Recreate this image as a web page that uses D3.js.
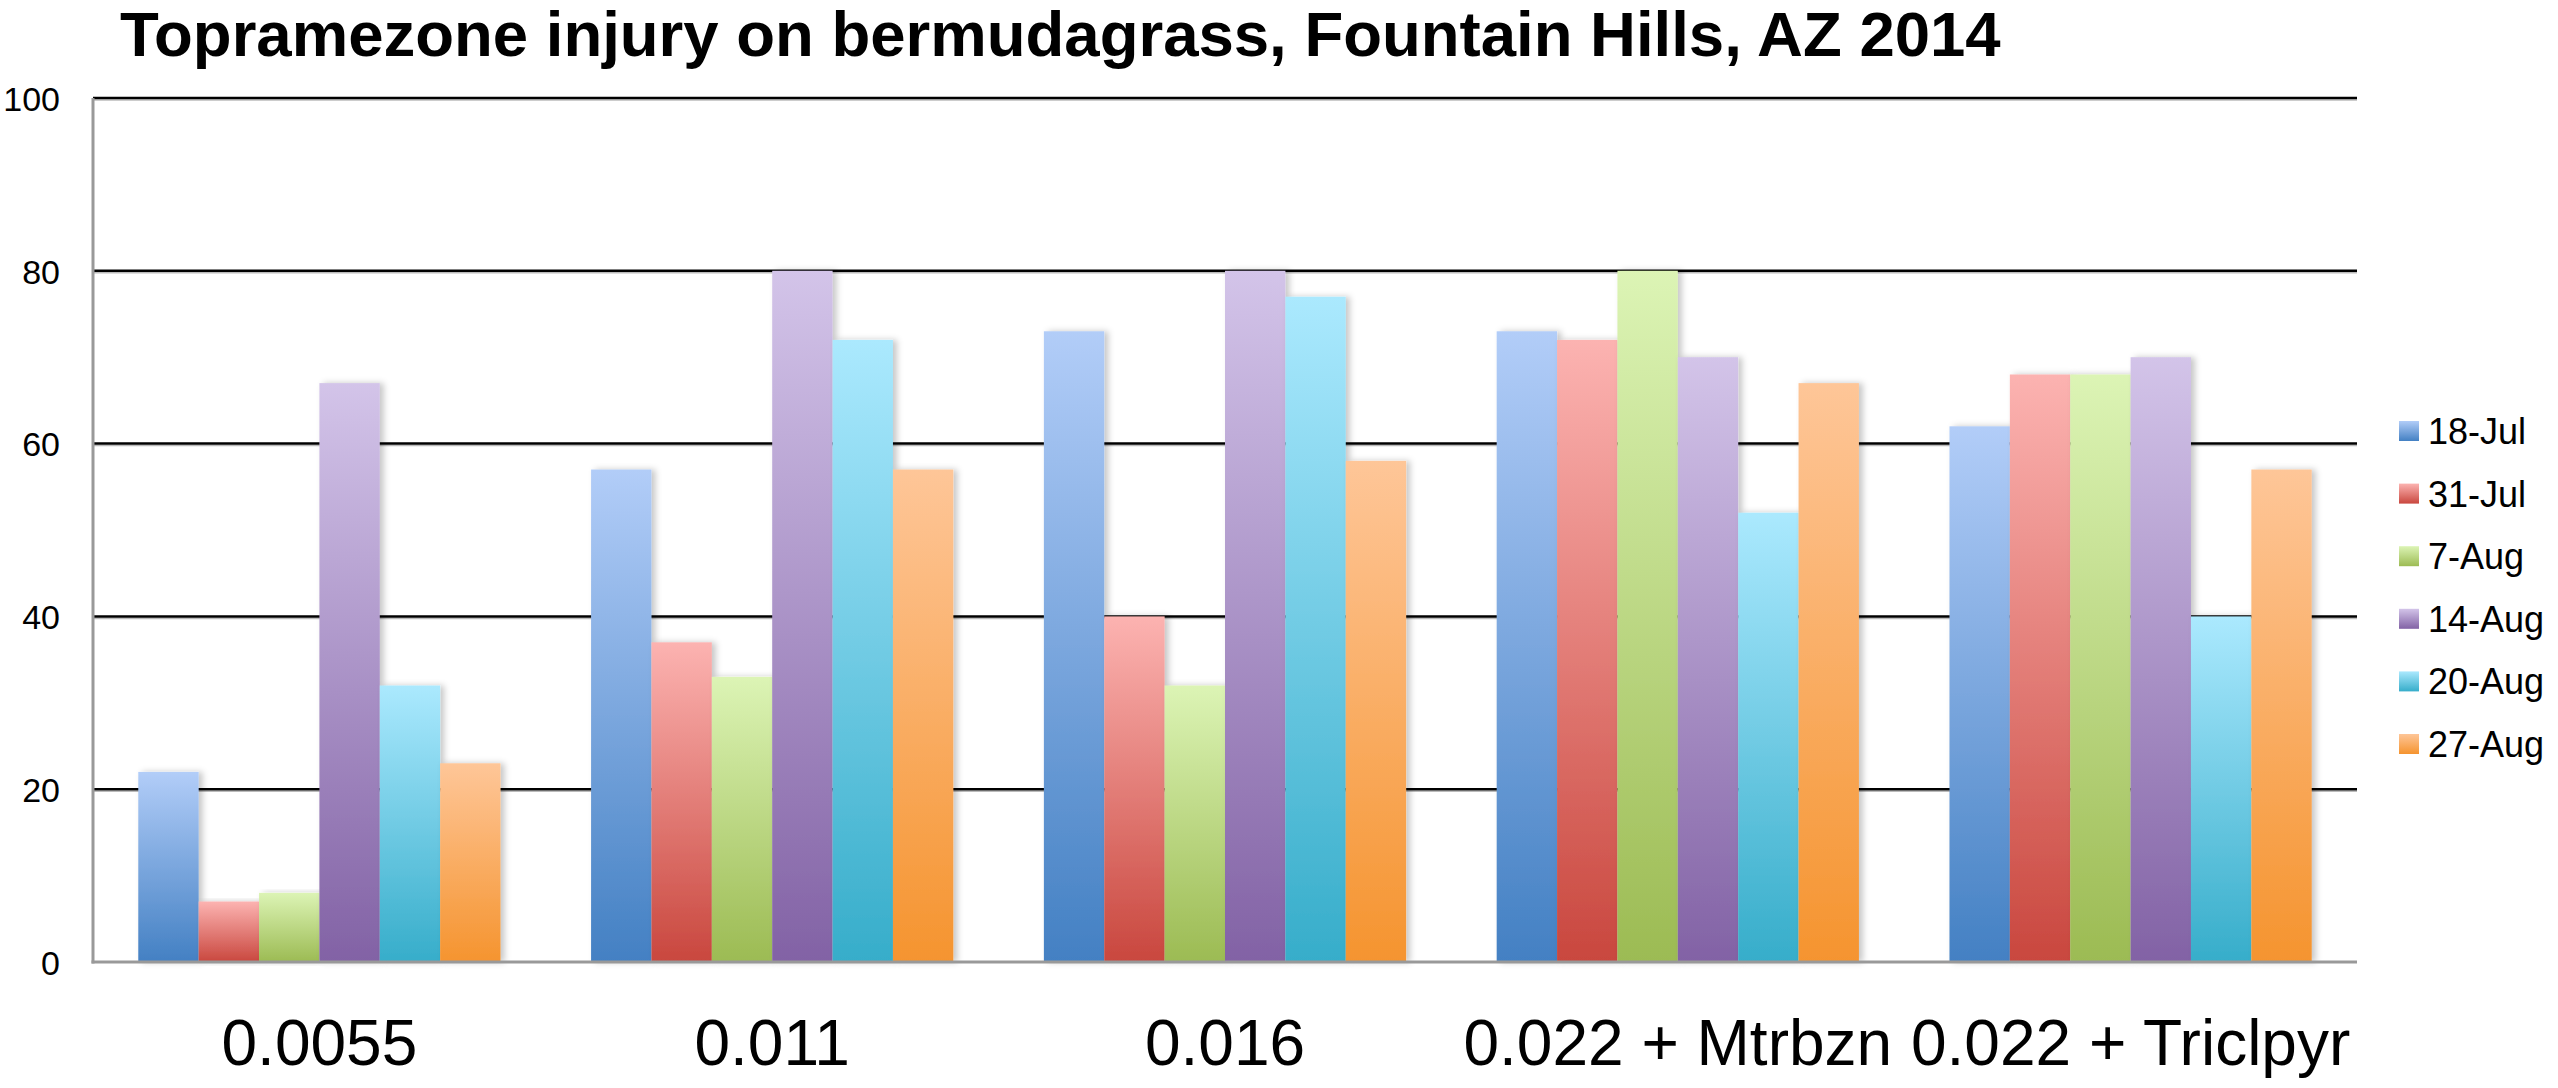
<!DOCTYPE html>
<html>
<head>
<meta charset="utf-8">
<script src="https://cdn.jsdelivr.net/npm/d3@7"></script>
<style>
  html, body { margin: 0; padding: 0; background: #fff; }
  svg { display: block; }
</style>
</head>
<body>
<svg id="chart" width="2558" height="1088"></svg>
<script>
const title = "Topramezone injury on bermudagrass, Fountain Hills, AZ 2014";
const categories = ["0.0055", "0.011", "0.016", "0.022 + Mtrbzn", "0.022 + Triclpyr"];
const seriesNames = ["18-Jul", "31-Jul", "7-Aug", "14-Aug", "20-Aug", "27-Aug"];
const jul18 = [22, 57, 73, 73, 62];
const jul31 = [7, 37, 40, 72, 68];
const aug7  = [8, 33, 32, 80, 68];
const aug14 = [67, 80, 80, 70, 70];
const aug20 = [32, 72, 77, 52, 40];
const aug27 = [23, 57, 58, 67, 57];
const seriesValues = [jul18, jul31, aug7, aug14, aug20, aug27];
const yTicks = [0, 20, 40, 60, 80, 100];
const colorTop    = ["#b2cdf8", "#fcb3b1", "#dcf4b5", "#d3c4e9", "#abe9fe", "#fec698"];
const colorBottom = ["#4380c3", "#c9473e", "#9cbb53", "#8262a5", "#36adca", "#f5942f"];

const svg = d3.select("#chart");
const plotLeft = 93, plotRight = 2357, plotTop = 98, plotBottom = 962;

const defs = svg.append("defs");
seriesNames.forEach((s, i) => {
  const g = defs.append("linearGradient").attr("id", "grad" + i)
    .attr("x1", 0).attr("y1", 0).attr("x2", 0).attr("y2", 1);
  g.append("stop").attr("offset", "0%").attr("stop-color", colorTop[i]);
  g.append("stop").attr("offset", "100%").attr("stop-color", colorBottom[i]);
});
const f = defs.append("filter").attr("id", "shadow")
  .attr("x", "-20%").attr("y", "-5%").attr("width", "150%").attr("height", "110%");
f.append("feDropShadow").attr("dx", 4).attr("dy", 0).attr("stdDeviation", 3)
  .attr("flood-color", "#000").attr("flood-opacity", 0.22);

const y = d3.scaleLinear().domain([0, 100]).range([plotBottom, plotTop]);
const x0 = d3.scaleBand().domain(categories).range([plotLeft, plotRight]).paddingInner(0.2).paddingOuter(0.1);
const x1 = d3.scaleBand().domain(seriesNames).range([0, x0.bandwidth()]).padding(0);

// Title
svg.append("text").attr("x", 120).attr("y", 56)
  .attr("font-family", "Liberation Sans, Arial, sans-serif")
  .attr("font-weight", "bold").attr("font-size", 63.5).attr("fill", "#000")
  .text(title);

// Gridlines
const grid = svg.append("g");
yTicks.filter(t => t > 0).forEach(t => {
  grid.append("line").attr("x1", plotLeft).attr("x2", plotRight)
    .attr("y1", y(t) + 2).attr("y2", y(t) + 2)
    .attr("stroke", "#bbb").attr("stroke-width", 1.5);
  grid.append("line").attr("x1", plotLeft).attr("x2", plotRight)
    .attr("y1", y(t)).attr("y2", y(t))
    .attr("stroke", "#000").attr("stroke-width", 2.5);
});

// Bars
const groups = svg.append("g").selectAll("g").data(categories).join("g")
  .attr("transform", c => `translate(${x0(c)},0)`);
groups.each(function(c, ci) {
  d3.select(this).selectAll("rect")
    .data(seriesNames.map((s, si) => ({ s, si, v: seriesValues[si][ci] })))
    .join("rect")
    .attr("x", d => x1(d.s))
    .attr("y", d => y(d.v))
    .attr("width", x1.bandwidth())
    .attr("height", d => y(0) - y(d.v))
    .attr("fill", d => `url(#grad${d.si})`)
    .attr("filter", "url(#shadow)");
});

// Axes lines
svg.append("line").attr("x1", plotLeft).attr("x2", plotLeft).attr("y1", plotTop).attr("y2", plotBottom + 1.5)
  .attr("stroke", "#999").attr("stroke-width", 3);
svg.append("line").attr("x1", plotLeft - 1.5).attr("x2", plotRight).attr("y1", plotBottom).attr("y2", plotBottom)
  .attr("stroke", "#999").attr("stroke-width", 3);

// Y axis labels
const yAxis = d3.axisLeft(y).tickValues(yTicks).tickSize(0).tickPadding(0).tickFormat(d3.format("d"));
const yg = svg.append("g").attr("transform", "translate(60,0)").call(yAxis);
yg.select(".domain").remove();
yg.selectAll("text").attr("font-family", "Liberation Sans, Arial, sans-serif")
  .attr("font-size", 34).attr("fill", "#000").attr("dy", "0.36em");

// X axis labels
const xAxis = d3.axisBottom(x0).tickSize(0).tickPadding(0);
const xg = svg.append("g").call(xAxis);
xg.select(".domain").remove();
xg.selectAll("text").attr("font-family", "Liberation Sans, Arial, sans-serif")
  .attr("font-size", 64).attr("fill", "#000").attr("y", 1065).attr("dy", 0);

// Legend
const legend = svg.append("g");
seriesNames.forEach((s, i) => {
  const cy = 431 + i * 62.6;
  legend.append("rect").attr("x", 2399).attr("y", cy - 10).attr("width", 20).attr("height", 20)
    .attr("fill", `url(#grad${i})`);
  legend.append("text").attr("x", 2428).attr("y", cy + 13)
    .attr("font-family", "Liberation Sans, Arial, sans-serif")
    .attr("font-size", 36).attr("fill", "#000").text(s);
});
</script>
</body>
</html>
